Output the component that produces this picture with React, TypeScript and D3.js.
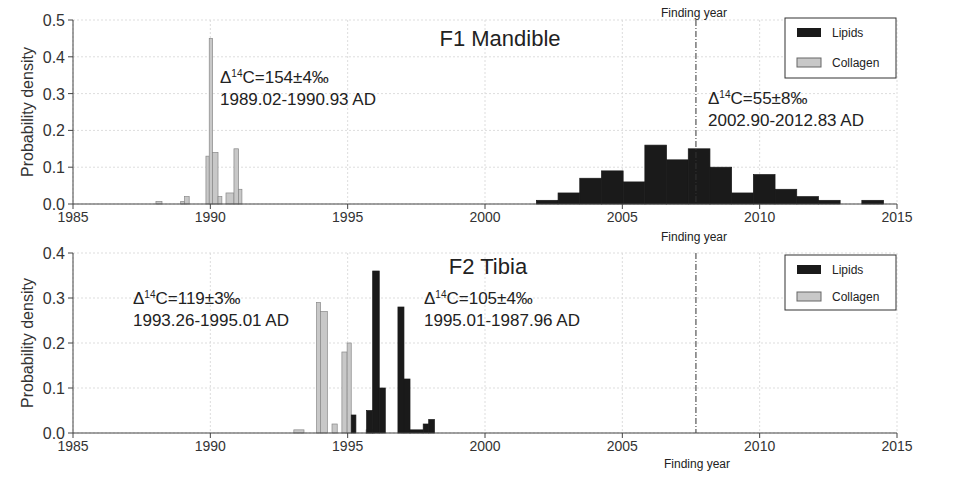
import React from "react";
import * as d3 from "d3";

// Top panel (F1 Mandible)
const f1LipidStarts = [2001.87,2002.66,2003.45,2004.24,2005.03,2005.82,2006.61,2007.4,2008.19,2008.98,2009.77,2010.56,2011.35,2012.14,2012.93,2013.72];
const f1LipidWidth = 0.79;
const f1LipidValues = [0.01,0.03,0.07,0.09,0.06,0.16,0.12,0.15,0.10,0.03,0.08,0.04,0.02,0.01,0,0.01];
const f1CollStart = [1988.02,1988.92,1989.06,1989.84,1989.96,1990.08,1990.28,1990.57,1990.86,1991.03];
const f1CollEnd =   [1988.24,1989.06,1989.23,1989.96,1990.08,1990.28,1990.42,1990.86,1991.03,1991.15];
const f1CollValues = [0.007,0.007,0.02,0.13,0.45,0.14,0.02,0.03,0.15,0.04];

// Bottom panel (F2 Tibia)
const f2CollStart = [1993.04,1993.87,1994.01,1994.43,1994.79,1994.98,1995.67];
const f2CollEnd =   [1993.41,1994.01,1994.26,1994.62,1994.98,1995.13,1995.98];
const f2CollValues = [0.007,0.29,0.27,0.02,0.18,0.2,0.007];
const f2LipStart = [1995.13,1995.69,1995.91,1996.15,1996.83,1997.05,1997.27,1997.75,1997.95];
const f2LipEnd =   [1995.30,1995.91,1996.15,1996.37,1997.05,1997.27,1997.75,1997.95,1998.16];
const f2LipValues = [0.04,0.05,0.36,0.10,0.28,0.12,0.007,0.02,0.03];

const xTicks = [1985,1990,1995,2000,2005,2010,2015];
const f1YTicks = [0,0.1,0.2,0.3,0.4,0.5];
const f2YTicks = [0,0.1,0.2,0.3,0.4];
const findingYear = 2007.68;

const FONT = "Liberation Sans, Arial, sans-serif";
const GRAY = "#c8c8c8";
const BLACK = "#1a1a1a";

type Bar = { x0: number; x1: number; v: number; fill: string };

function Panel({ top, bottom, yMax, yTicks, bars, title, ann, legendY }: any) {
  const x = d3.scaleLinear().domain([1985, 2015]).range([73, 897]);
  const y = d3.scaleLinear().domain([0, yMax]).range([bottom, top]);
  const fmt = d3.format(".1f");
  return (
    <g fontFamily={FONT}>
      {yTicks.map((t: number) => (
        <line key={"gy" + t} x1={73} x2={897} y1={y(t)} y2={y(t)} stroke="#ddd" strokeDasharray="2,2" />
      ))}
      {xTicks.map((t) => (
        <line key={"gx" + t} x1={x(t)} x2={x(t)} y1={top} y2={bottom} stroke="#ddd" strokeDasharray="2,2" />
      ))}
      {bars.map((b: Bar, i: number) => b.v > 0 && (
        <rect key={i} x={x(b.x0)} width={x(b.x1) - x(b.x0)} y={y(b.v)} height={bottom - y(b.v)}
          fill={b.fill} stroke={b.fill === GRAY ? "#888" : BLACK} strokeWidth={0.7} />
      ))}
      <line x1={x(findingYear)} x2={x(findingYear)} y1={top} y2={bottom} stroke="#333" strokeDasharray="6,2,1,2" />
      <line x1={73} x2={73} y1={top} y2={bottom} stroke="#444" />
      <line x1={73} x2={897} y1={bottom} y2={bottom} stroke="#444" />
      {yTicks.map((t: number) => (
        <g key={"yt" + t}>
          <line x1={68} x2={73} y1={y(t)} y2={y(t)} stroke="#444" />
          <text x={65} y={y(t) + 6} textAnchor="end" fontSize={16} fill="#333">{fmt(t)}</text>
        </g>
      ))}
      {xTicks.map((t) => (
        <g key={"xt" + t}>
          <line x1={x(t)} x2={x(t)} y1={bottom} y2={bottom + 5} stroke="#444" />
          <text x={x(t)} y={bottom + 18} textAnchor="middle" fontSize={14} fill="#333">{t}</text>
        </g>
      ))}
      <text transform={`translate(33,${(top + bottom) / 2}) rotate(-90)`} textAnchor="middle" fontSize={16} fill="#333">Probability density</text>
      <text x={title.x} y={title.y} textAnchor="middle" fontSize={22} fill="#222">{title.text}</text>
      {ann.map((a: any, i: number) => (
        <g key={i} fontSize={17} fill="#222">
          <text x={a.x} y={a.y}>Δ<tspan fontSize={10} dy={-6}>14</tspan><tspan dy={6}>C={a.d}</tspan></text>
          <text x={a.x} y={a.y + 22}>{a.r}</text>
        </g>
      ))}
      <g>
        <rect x={785} y={legendY} width={111} height={legendY === 18 ? 60 : 55} fill="white" stroke="#333" />
        <rect x={797} y={legendY + 10} width={24} height={9} fill={BLACK} />
        <text x={832} y={legendY + 19} fontSize={12} fill="#222">Lipids</text>
        <rect x={797} y={legendY + (legendY === 18 ? 40 : 37)} width={24} height={9} fill={GRAY} stroke="#666" />
        <text x={832} y={legendY + (legendY === 18 ? 49 : 46)} fontSize={12} fill="#222">Collagen</text>
      </g>
    </g>
  );
}

export default function App() {
  const f1Bars: Bar[] = [
    ...f1CollStart.map((s, i) => ({ x0: s, x1: f1CollEnd[i], v: f1CollValues[i], fill: GRAY })),
    ...f1LipidStarts.map((s, i) => ({ x0: s, x1: s + f1LipidWidth, v: f1LipidValues[i], fill: BLACK })),
  ];
  const f2Bars: Bar[] = [
    ...f2CollStart.map((s, i) => ({ x0: s, x1: f2CollEnd[i], v: f2CollValues[i], fill: GRAY })),
    ...f2LipStart.map((s, i) => ({ x0: s, x1: f2LipEnd[i], v: f2LipValues[i], fill: BLACK })),
  ];
  return (
    <svg width={960} height={477} style={{ position: "absolute", left: 0, top: 0, background: "white" }}>
      <rect width={960} height={477} fill="white" />
      <Panel top={20} bottom={204} yMax={0.5} yTicks={f1YTicks} bars={f1Bars} legendY={18}
        title={{ text: "F1 Mandible", x: 500, y: 46 }}
        ann={[{ x: 220, y: 83, d: "154±4‰", r: "1989.02-1990.93 AD" }, { x: 708, y: 104, d: "55±8‰", r: "2002.90-2012.83 AD" }]} />
      <Panel top={253} bottom={433} yMax={0.4} yTicks={f2YTicks} bars={f2Bars} legendY={255}
        title={{ text: "F2 Tibia", x: 488, y: 274 }}
        ann={[{ x: 133, y: 304, d: "119±3‰", r: "1993.26-1995.01 AD" }, { x: 424, y: 304, d: "105±4‰", r: "1995.01-1987.96 AD" }]} />
      <g fontFamily={FONT} fontSize={12} fill="#222" textAnchor="middle">
        <text x={694} y={17}>Finding year</text>
        <text x={694} y={241}>Finding year</text>
        <text x={697} y={468}>Finding year</text>
      </g>
    </svg>
  );
}
